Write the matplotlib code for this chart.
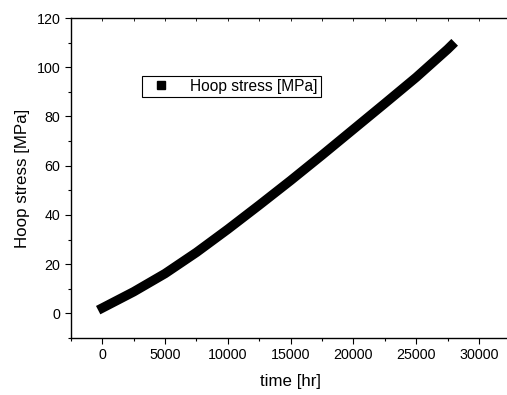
import matplotlib
matplotlib.use("Agg")
import matplotlib.pyplot as plt
from matplotlib.lines import Line2D
from matplotlib.ticker import MultipleLocator

# hoop stress curve
time_hr = [0, 2500, 5000, 7500, 10000, 12500, 15000, 17500, 20000, 22500, 25000, 27500, 27800]
hoop_mpa = [2.2, 8.8, 16.2, 24.8, 34.2, 44, 54, 64.3, 74.8, 85.3, 95.9, 107.3, 108.8]

plt.rcParams['font.family'] = ['Liberation Sans', 'DejaVu Sans']

fig = plt.figure(figsize=(5.07, 3.95), dpi=100)
ax = fig.add_axes([0.140, 0.1443, 0.8665, 0.810])

ax.plot(time_hr, hoop_mpa, color='black', lw=6.8, solid_capstyle='projecting',
        solid_joinstyle='round', zorder=3)

ax.set_xlim(-2500, 32500)
ax.set_ylim(-10, 120)
ax.xaxis.set_major_locator(MultipleLocator(5000))
ax.xaxis.set_minor_locator(MultipleLocator(2500))
ax.yaxis.set_major_locator(MultipleLocator(20))
ax.yaxis.set_minor_locator(MultipleLocator(10))

ax.spines['right'].set_visible(False)
for s in ['left', 'bottom', 'top']:
    ax.spines[s].set_linewidth(1.0)

ax.tick_params(which='major', direction='out', length=4, width=0.8, labelsize=10.3)
ax.tick_params(which='minor', direction='out', length=2.5, width=0.8)
ax.tick_params(axis='y', which='both', right=False)

# top axis: small inward ticks, no labels
top = ax.secondary_xaxis('top')
top.xaxis.set_major_locator(MultipleLocator(5000))
top.xaxis.set_minor_locator(MultipleLocator(2500))
top.tick_params(which='both', direction='in', length=2, width=0.6, labeltop=False)
top.spines['top'].set_visible(False)

ax.set_xlabel('time [hr]', fontsize=12.2, labelpad=8)
ax.set_ylabel('Hoop stress [MPa]', fontsize=12.2, labelpad=5)

handle = Line2D([], [], color='black', marker='s', ls='none', ms=6)
leg = ax.legend([handle], ['Hoop stress [MPa]'], loc='upper left',
                bbox_to_anchor=(0.162, 0.82), fontsize=11.2, fancybox=False,
                edgecolor='black', framealpha=1, borderpad=0.2, handletextpad=0.9,
                borderaxespad=0)
leg.get_frame().set_linewidth(0.8)

fig.savefig('out.png', dpi=100)
